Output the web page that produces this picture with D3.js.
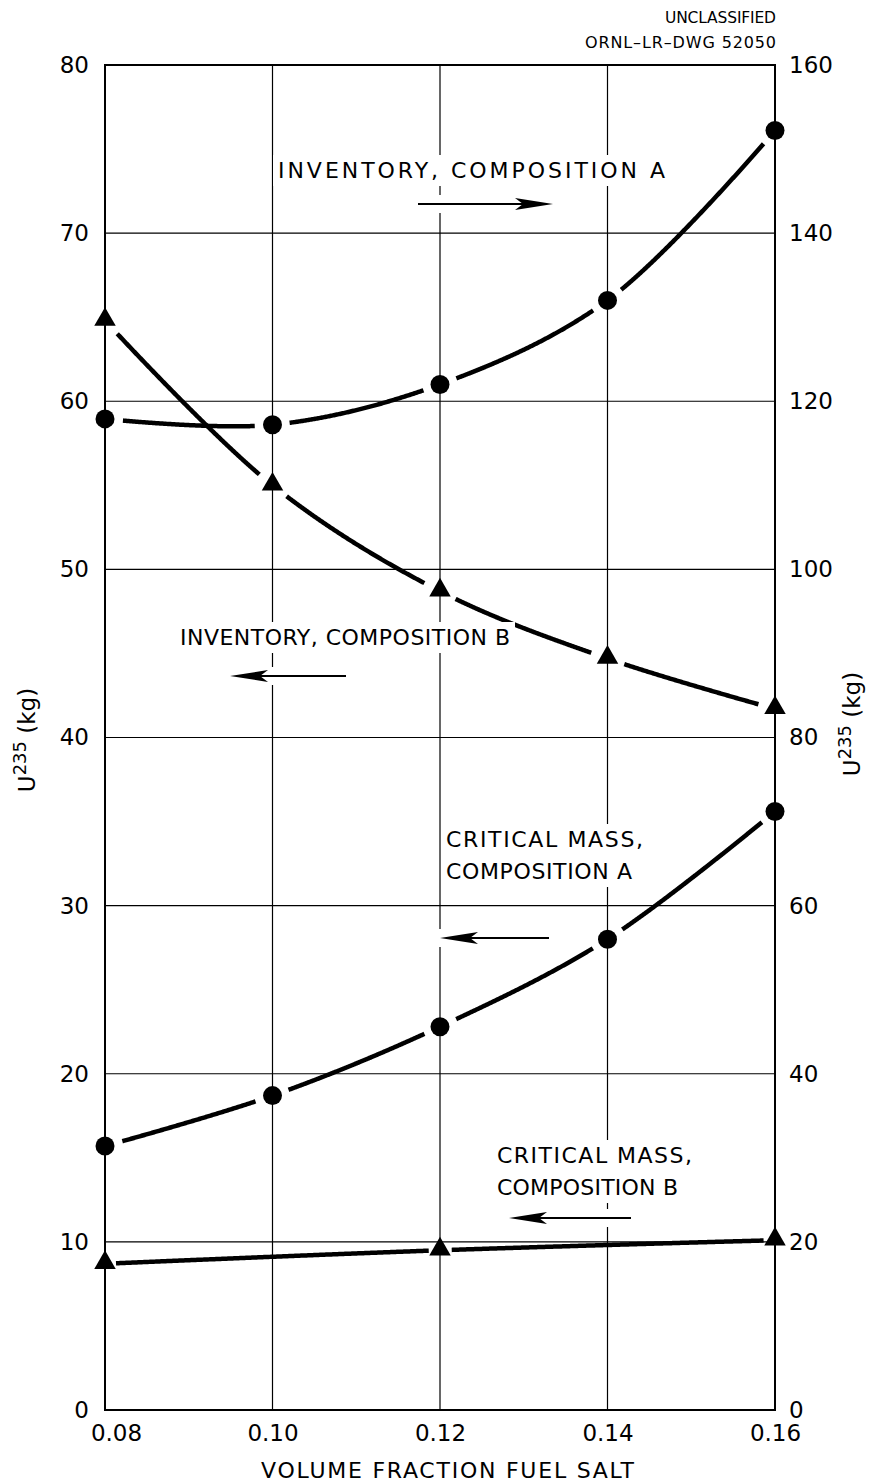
<!DOCTYPE html>
<html><head><meta charset="utf-8">
<script src="https://cdn.jsdelivr.net/npm/d3@7"></script>
<style>body{margin:0;background:#fff}text{font-family:"DejaVu Sans",sans-serif;fill:#000}</style>
</head><body><svg id="c" width="875" height="1482"></svg>
<script>
const xTicks = [0.08, 0.10, 0.12, 0.14, 0.16];
const leftTicks = [0, 10, 20, 30, 40, 50, 60, 70, 80];
const rightTicks = [0, 20, 40, 60, 80, 100, 120, 140, 160];
// Inventory, composition A (right axis, kg)
const invAx = [0.08, 0.10, 0.12, 0.14, 0.16];
const invA = [117.9, 117.2, 122.0, 132.0, 152.2];
// Inventory, composition B (left axis, kg)
const invBx = [0.08, 0.10, 0.12, 0.14, 0.16];
const invB = [64.8, 55.0, 48.7, 44.7, 41.7];
// Critical mass, composition A (left axis, kg)
const cmAx = [0.08, 0.10, 0.12, 0.14, 0.16];
const cmA = [15.7, 18.7, 22.8, 28.0, 35.6];
// Critical mass, composition B (left axis, kg)
const cmBx = [0.08, 0.12, 0.16];
const cmB = [8.7, 9.5, 10.1];

const svg = d3.select("#c");
const L = 105, R = 775, T = 65, B = 1410;
const x = d3.scaleLinear().domain([0.08, 0.16]).range([L, R]);
const yL = d3.scaleLinear().domain([0, 80]).range([B, T]);
const yR = d3.scaleLinear().domain([0, 160]).range([B, T]);

// grid
const g = svg.append("g");
g.selectAll("line.vg").data(xTicks.slice(1, -1)).join("line").attr("class", "vg")
  .attr("x1", d => x(d)).attr("x2", d => x(d)).attr("y1", T).attr("y2", B)
  .attr("stroke", "#000").attr("stroke-width", 1.2);
g.selectAll("line.hg").data(leftTicks.slice(1, -1)).join("line").attr("class", "hg")
  .attr("y1", d => yL(d)).attr("y2", d => yL(d)).attr("x1", L).attr("x2", R)
  .attr("stroke", "#000").attr("stroke-width", 1.2);
g.append("rect").attr("x", L).attr("y", T).attr("width", R - L).attr("height", B - T)
  .attr("fill", "none").attr("stroke", "#000").attr("stroke-width", 2);

// axes (labels only)
const axL = d3.axisLeft(yL).tickValues(leftTicks).tickSize(0).tickPadding(16);
const axR = d3.axisRight(yR).tickValues(rightTicks).tickSize(0).tickPadding(14);
const axB = d3.axisBottom(x).tickValues(xTicks).tickSize(0).tickPadding(15).tickFormat(d3.format(".2f"));
function styleAx(sel) { sel.select(".domain").remove(); sel.selectAll("text").style("font-family", "DejaVu Sans").style("font-size", "23px"); }
svg.append("g").attr("transform", `translate(${L},0)`).call(axL).call(styleAx);
svg.append("g").attr("transform", `translate(${R},0)`).call(axR).call(styleAx);
const gb = svg.append("g").attr("transform", `translate(0,${B})`).call(axB).call(styleAx);
gb.selectAll(".tick").filter(d => d === 0.08).select("text").attr("dx", 11);

// text helper with fixed width
function txt(s, tx, ty, w, size, anchor) {
  const t = svg.append("text").attr("x", tx).attr("y", ty).style("font-size", size + "px")
    .attr("text-anchor", anchor || "start").text(s);
  if (w) t.attr("textLength", w).attr("lengthAdjust", "spacing");
  return t;
}
txt("VOLUME FRACTION FUEL SALT", 261, 1478, 373, 22);

function yTitle(tx, ty) {
  const t = svg.append("text").attr("transform", `translate(${tx},${ty}) rotate(-90)`)
    .attr("text-anchor", "middle").style("font-size", "23px");
  t.append("tspan").text("U");
  t.append("tspan").attr("dy", -9).style("font-size", "18px").text("235");
  t.append("tspan").attr("dy", 9).text(" (kg)");
}
yTitle(35, 740);
yTitle(860, 724);

// header
txt("UNCLASSIFIED", 665, 23, 111, 15.5);
txt("ORNL–LR–DWG 52050", 585, 48, 191, 16);

// curves
const curves = [
  { xs: invAx, ys: invA, y: yR, mark: "circle", gap: 17 },
  { xs: invBx, ys: invB, y: yL, mark: "triangle", gap: 17 },
  { xs: cmAx, ys: cmA, y: yL, mark: "circle", gap: 17 },
  { xs: cmBx, ys: cmB, y: yL, mark: "triangle", gap: 11 }
];
const line = d3.line().curve(d3.curveCatmullRom.alpha(0.5));
const curveLayer = svg.append("g");
const markLayer = svg.append("g");
curves.forEach(c => {
  const pts = c.xs.map((v, i) => [x(v), c.y(c.ys[i])]);
  // sample the smooth curve and leave small gaps around each marker, as in the drafted original
  const tmp = svg.append("path").attr("d", line(pts)).attr("fill", "none").attr("stroke", "none");
  const node = tmp.node();
  const len = node.getTotalLength();
  const runs = [];
  let cur = [];
  for (let s = 0; s <= len; s += 1) {
    const p = node.getPointAtLength(s);
    const near = pts.some(q => Math.hypot(q[0] - p.x, q[1] - p.y) < c.gap);
    if (near) { if (cur.length > 1) runs.push(cur); cur = []; }
    else cur.push([p.x, p.y]);
  }
  if (cur.length > 1) runs.push(cur);
  tmp.remove();
  runs.forEach(r => curveLayer.append("path").attr("d", d3.line()(r)).attr("fill", "none")
    .attr("stroke", "#000").attr("stroke-width", 4.5).attr("stroke-linecap", "butt"));
  if (c.mark === "circle") {
    pts.forEach(p => markLayer.append("circle").attr("cx", p[0]).attr("cy", p[1]).attr("r", 9.5).attr("fill", "#000"));
  } else {
    const sym = d3.symbol().type(d3.symbolTriangle).size(200);
    pts.forEach(p => markLayer.append("path").attr("transform", `translate(${p[0]},${p[1] - 1})`).attr("d", sym).attr("fill", "#000"));
  }
});

// annotations with white backgrounds
function label(lines, lx, ly, lh, widths) {
  const grp = svg.append("g");
  const bg = grp.append("rect").attr("fill", "#fff");
  const t = grp.append("text").style("font-size", "22px");
  lines.forEach((s, i) => t.append("tspan").attr("x", lx).attr("y", ly + i * lh)
    .attr("textLength", widths[i]).attr("lengthAdjust", "spacing").text(s));
  const bb = t.node().getBBox();
  bg.attr("x", bb.x - 5).attr("y", bb.y - 3).attr("width", bb.width + 10).attr("height", bb.height + 6);
}
function arrow(x1, x2, ay) {
  const dir = Math.sign(x2 - x1);
  svg.append("rect").attr("x", Math.min(x1, x2) - 3).attr("y", ay - 9).attr("width", Math.abs(x2 - x1) + 6).attr("height", 18).attr("fill", "#fff");
  svg.append("line").attr("x1", x1).attr("x2", x2 - dir * 20).attr("y1", ay).attr("y2", ay).attr("stroke", "#000").attr("stroke-width", 1.8);
  svg.append("path").attr("d", `M${x2},${ay} L${x2 - dir * 38},${ay - 6} L${x2 - dir * 30},${ay} L${x2 - dir * 38},${ay + 6} Z`).attr("fill", "#000");
}
label(["INVENTORY, COMPOSITION  A"], 278, 178, 0, [387]);
arrow(418, 553, 204);
label(["INVENTORY, COMPOSITION B"], 180, 645, 0, [330]);
arrow(346, 230, 676);
label(["CRITICAL MASS,", "COMPOSITION  A"], 446, 847, 32, [197, 186]);
arrow(549, 440, 938);
label(["CRITICAL MASS,", "COMPOSITION B"], 497, 1163, 32, [195, 181]);
arrow(631, 509, 1218);
</script></body></html>
